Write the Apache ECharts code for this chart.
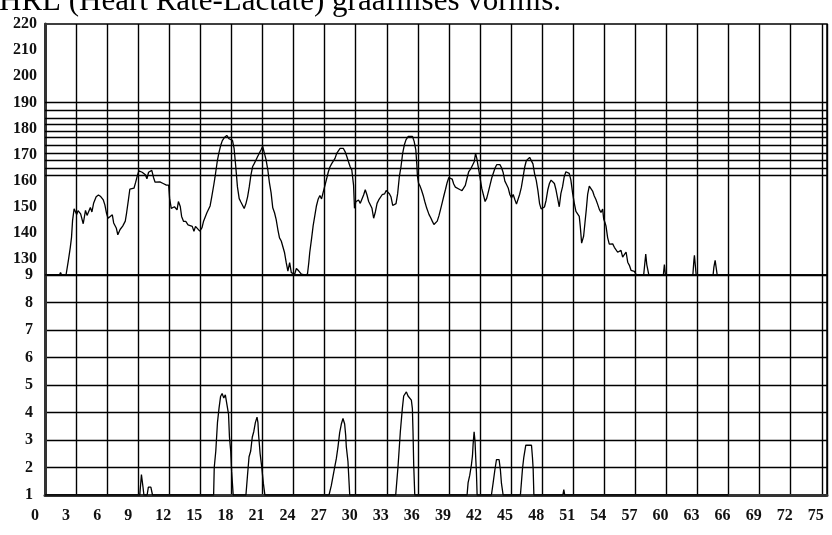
<!DOCTYPE html>
<html>
<head>
<meta charset="utf-8">
<script src="https://cdn.jsdelivr.net/npm/echarts@6.0.0/dist/echarts.min.js"></script>
<style>
html,body{margin:0;padding:0;background:#fff;}
#chart{width:832px;height:535px;}
</style>
</head>
<body>
<div id="chart"></div>
<script>
// ---- text ----
const titleText = 'HRL (Heart Rate-Lactate) graafilises vormis.';

// ---- axes ----
const hrTicks = [130, 140, 150, 160, 170, 180, 190, 200, 210, 220];
const lactateTicks = [1, 2, 3, 4, 5, 6, 7, 8, 9];
const timeMax = 75.5;      // minutes shown on the time axis
const timeStep = 3;        // labelled every 3 minutes

// ---- heart-rate zone lines (bpm) ----
const zoneLines = [190, 187, 184, 181.5, 179, 176.5, 173.5, 170.5, 168, 165, 162];

// ---- heart rate [minute, bpm] ----
const hrPart1 = [
  [0,124],[1.4,124],[1.5,125],[1.6,124],[2.03,124],[2.25,129.4],[2.44,134.5],[2.56,138.4],[2.66,144.8],[2.81,149.3],
  [2.88,149.6],[3.06,147.1],[3.19,148.6],[3.44,147.4],[3.69,143.6],[3.91,148.7],[4.06,146.8],[4.38,149.8],[4.53,148.1],[4.69,151.4],
  [4.94,153.9],[5.16,154.6],[5.38,154.0],[5.63,152.7],[5.78,150.8],[5.94,147.6],[6.09,145.7],[6.25,146.4],[6.5,147.0],[6.63,143.9],
  [6.88,142.0],[7.03,139.4],[7.25,141.4],[7.5,142.7],[7.75,144.6],[7.88,147.8],[8.06,152.9],[8.19,156.8],[8.38,156.8],[8.59,157.2],
  [8.75,159.4],[8.91,161.9],[9.06,163.8],[9.22,164.5],[9.38,163.3],[9.53,163.9],[9.69,162.3],[9.84,160.8],[10.0,163.3],[10.16,162.7],
  [10.31,164.0],[10.47,161.4],[10.63,159.5],[10.78,160.2],[11.09,159.6],[11.41,159.0],[11.72,158.4],[11.94,158.4],[12.03,153.3],[12.19,149.5],
  [12.34,148.8],[12.5,150.1],[12.75,148.9],[12.88,152.1],[13.06,150.2],[13.19,146.4],[13.38,144.5],[13.59,144.5],[13.81,143.2],[14.0,143.9],
  [14.22,142.6],[14.38,140.7],[14.53,142.6],[14.69,142.0],[14.94,140.8],[15.16,142.1],[15.31,144.6],[15.63,147.8],[15.94,150.4],[16.09,153.7],
  [16.31,158.8],[16.41,161.3]
];
const hrPart2 = [
  [16.64,167.7],[16.8,170.9],[16.96,173.5],[17.12,175.4],[17.35,176.7],[17.55,177.4],[17.77,176.1],[17.94,176.8],[18.1,175.5],[18.26,172.3],
  [18.42,165.3],[18.58,157.7],[18.75,153.2],[18.91,151.9],[19.07,150.7],[19.23,149.4],[19.4,151.3],[19.56,153.9],[19.72,157.7],[19.88,162.2],
  [20.05,165.5],[20.21,166.7],[20.37,168.0],[20.53,169.3],[20.69,170.6],[20.86,171.9],[21.02,173.2],[21.18,170.6],[21.34,168.1],[21.51,164.3],
  [21.67,159.2],[21.83,155.4],[21.99,149.7],[22.16,147.8],[22.32,145.2],[22.48,141.4],[22.64,138.2],[22.81,137.0],[22.97,136.3],[23.13,132.5],
  [23.29,128.7],[23.45,125.5],[23.62,128.7],[23.78,124.9],[23.94,124.3],[24.1,124.3],[24.27,126.5],[24.49,125.6],[24.75,124.3],[25.08,124],
  [25.34,124.3],[25.47,128.8],[25.56,132.6],[25.73,137.7],[25.89,142.9],[26.05,146.7],[26.21,150.5],[26.38,153.1],[26.54,154.4],[26.7,153.1],
  [26.86,155.7],[27.03,158.3],[27.19,160.8],[27.35,163.4],[27.51,165.3],[27.68,166.6],[27.84,167.3],[28.0,168.6],[28.16,170.5],[28.32,171.1],
  [28.49,172.4],[28.65,173.1],[28.81,172.4],[28.97,171.2],[29.14,169.3],[29.3,167.3],[29.46,165.4],[29.62,164.2],[29.79,158.4],[29.88,149.5],
  [30.01,152.0],[30.27,152.7],[30.44,151.4],[30.6,152.1],[30.76,154.6],[30.92,156.6],[31.08,154.7],[31.25,152.1],[31.41,151.4],[31.57,149.5],
  [31.73,145.7],[31.9,148.2],[32.06,151.4],[32.22,152.7],[32.55,154.7]
];
const hrPart3 = [
  [32.78,155.0],[32.94,156.3],[33.1,157.0],[33.25,155.1],[33.41,153.8],[33.57,150.6],[33.73,150.0],[33.89,151.3],[34.05,155.2],[34.21,161.6],
  [34.37,165.4],[34.53,170.5],[34.69,173.7],[34.85,175.7],[35.07,177.0],[35.26,177.6],[35.48,177.0],[35.64,175.1],[35.8,171.9],[35.9,166.2],
  [35.96,161.7],[36.06,159.2],[36.22,157.9],[36.34,156.6],[36.54,154.1],[36.66,152.2],[36.85,149.6],[37.08,147.1],[37.24,145.9],[37.39,144.6],
  [37.55,143.3],[37.71,144.0],[37.87,144.6],[38.03,146.6],[38.19,149.1],[38.35,151.7],[38.51,154.3],[38.67,156.8],[38.83,159.4],[38.99,161.3],
  [39.15,162.0],[39.31,160.7],[39.46,158.8],[39.62,157.6],[39.78,156.9],[40.04,156.7],[40.26,156.3],[40.42,157.0],[40.58,158.3],[40.74,160.9],
  [40.9,163.4],[41.12,164.7],[41.31,165.4],[41.44,167.3],[41.57,170.5],[41.69,168.6],[41.85,164.8],[42.01,161.0],[42.17,157.1],[42.33,154.6],
  [42.49,152.1],[42.65,153.4],[42.81,155.9],[42.97,158.5],[43.13,161.1],[43.29,163.0],[43.45,164.9],[43.61,166.2],[43.76,166.8],[43.92,166.2],
  [44.08,165.0],[44.24,163.1],[44.4,159.9],[44.56,158.6],[44.72,157.3],[44.88,154.8],[45.04,153.5],[45.2,154.8],[45.36,152.9],[45.52,151.1],
  [45.68,151.7],[45.83,154.9],[45.99,157.5],[46.15,161.3],[46.31,165.2],[46.47,167.7],[46.63,168.4],[46.79,169.0],[46.95,169.0],[47.11,166.5],
  [47.27,162.7],[47.43,160.2],[47.59,156.3],[47.75,151.3],[47.9,149.3],[48.06,148.7],[48.22,150.0],[48.38,152.6],[48.54,156.5],[48.7,159.0],
  [48.86,160.3],[49.02,160.3],[49.18,159.0],[49.34,156.5]
];
const hrPart4 = [
  [49.65,150.1],[49.81,155.2],[49.97,157.8],[50.13,161.6],[50.29,163.5],[50.45,164.2],[50.61,162.9],[50.77,160.4],[50.94,155.3],[51.1,151.5],
  [51.26,148.3],[51.42,149.0],[51.58,146.4],[51.68,142.6],[51.81,136.2],[52.0,138.8],[52.13,143.9],[52.26,149.0],[52.39,154.8],[52.55,158.0],
  [52.71,157.4],[52.87,156.1],[53.03,154.2],[53.19,152.9],[53.35,151.1],[53.52,149.1],[53.68,147.9],[53.84,149.2],[53.94,145.4],[54.06,144.1],
  [54.16,142.8],[54.32,138.3],[54.48,135.8],[54.65,135.2],[54.81,135.9],[54.97,134.6],[55.13,134.0],[55.29,132.7],[55.45,132.7],[55.61,133.4],
  [55.77,130.8],[55.94,130.2],[56.1,132.8],[56.26,128.9],[56.42,127.7],[56.58,125.8],[56.74,125.8],[56.9,125.4],[57.1,124],[57.8,124],
  [57.9,128],[58.0,132],[58.1,128],[58.3,124],[59.7,124],[59.8,128],[59.9,124],[62.55,124],[62.65,129.6],[62.7,131.5],
  [62.87,124],[64.5,124],[64.58,127],[64.7,129.6],[64.9,124],[66,124]
];

// ---- lactate [minute, mmol/l] ----
const lactatePoints = [
  [0,1],[9.15,1],[9.31,1.74],[9.46,1.29],[9.55,1],[9.86,1],[9.98,1.29],[10.22,1.29],[10.38,1],
  [16.28,1],[16.34,2.0],[16.49,2.6],[16.65,3.63],[16.8,4.15],[16.95,4.58],[17.1,4.69],[17.26,4.53],[17.41,4.64],[17.56,4.69],[17.72,3.94],[17.81,3.1],[17.93,2.6],[18.02,1.85],[18.17,1],
  [19.4,1],[19.55,1.71],[19.7,2.39],[19.86,2.6],[20.01,3.1],[20.16,3.31],[20.31,3.63],[20.47,3.83],[20.56,3.63],[20.62,3.2],[20.77,2.5],[20.93,2.0],[21.08,1.43],[21.23,1],
  [27.42,1],[27.64,1.34],[27.97,2.01],[28.13,2.33],[28.29,2.76],[28.45,3.27],[28.61,3.58],[28.77,3.78],[28.93,3.58],[29.03,3.17],[29.09,2.76],[29.25,2.22],[29.42,1],
  [33.86,1],[34.09,2.07],[34.31,3.32],[34.5,4.14],[34.63,4.6],[34.89,4.75],[35.05,4.6],[35.21,4.6],[35.37,4.45],[35.47,4.14],[35.53,3.32],[35.6,2.07],[35.7,1],
  [40.75,1],[40.85,1.45],[41.01,1.72],[41.17,2.1],[41.27,2.42],[41.33,2.83],[41.43,3.3],[41.52,2.94],[41.59,2.31],[41.65,1.86],[41.72,1],
  [43.1,1],[43.26,1.42],[43.43,1.9],[43.59,2.29],[43.84,2.29],[43.97,1.9],[44.07,1.42],[44.23,1],
  [45.9,1],[46.1,1.95],[46.23,2.38],[46.42,2.81],[46.97,2.81],[47.06,2.38],[47.13,1.95],[47.2,1],
  [50.0,1],[50.09,1.2],[50.18,1],[66,1]
];

const hrData = hrPart1.concat(hrPart2, hrPart3, hrPart4);

const FONT = '"Liberation Serif", "DejaVu Serif", serif';
const labelStyle = { fontFamily: FONT, fontSize: 16, fontWeight: 'bold', color: '#111' };

const chart = echarts.init(document.getElementById('chart'), null, { renderer: 'canvas' });

chart.setOption({
  animation: false,
  backgroundColor: '#fff',
  graphic: [{
    type: 'text',
    x: -1,
    y: 2,
    style: {
      text: titleText,
      font: '31px "Liberation Serif", serif',
      fill: '#000',
      verticalAlign: 'middle'
    }
  }],
  grid: [
    { left: 45, right: 5, top: 24, height: 251, show: true, borderColor: '#000', borderWidth: 1.5 },
    { left: 45, right: 5, top: 275, height: 220, show: true, borderColor: '#000', borderWidth: 1.5 }
  ],
  xAxis: [
    {
      gridIndex: 0, type: 'value', min: 0, max: timeMax, interval: timeStep,
      axisLine: { show: false }, axisTick: { show: false }, axisLabel: { show: false },
      splitLine: { show: true, lineStyle: { color: '#000', width: 1.4 } }
    },
    {
      gridIndex: 1, type: 'value', min: 0, max: timeMax, interval: timeStep,
      axisLine: { show: true, onZero: false, lineStyle: { color: '#333', width: 3 } },
      axisTick: { show: false },
      axisLabel: Object.assign({}, labelStyle, {
        margin: 13,
        showMaxLabel: false,
        formatter: v => (v % timeStep === 0 ? (v < 10 ? '{one|' + v + '}' : '{two|' + v + '}') : ''),
        rich: {
          one: { fontFamily: FONT, fontSize: 16, fontWeight: 'bold', color: '#111', padding: [0, 20, 0, 0] },
          two: { fontFamily: FONT, fontSize: 16, fontWeight: 'bold', color: '#111', padding: [0, 12, 0, 0] }
        }
      }),
      splitLine: { show: true, lineStyle: { color: '#000', width: 1.4 } }
    }
  ],
  yAxis: [
    {
      gridIndex: 0, type: 'value', min: 124, max: 220,
      axisLine: { show: true, lineStyle: { color: '#333', width: 3 } },
      axisTick: { show: false },
      axisLabel: Object.assign({}, labelStyle, { margin: 8, customValues: hrTicks }),
      splitLine: { show: false }
    },
    {
      gridIndex: 1, type: 'value', min: 1, max: 9, interval: 1,
      axisLine: { show: true, lineStyle: { color: '#333', width: 3 } },
      axisTick: { show: false },
      axisLabel: Object.assign({}, labelStyle, { margin: 12, customValues: lactateTicks }),
      splitLine: { show: true, lineStyle: { color: '#000', width: 1.4 } }
    }
  ],
  series: [
    {
      name: 'HR', type: 'line', xAxisIndex: 0, yAxisIndex: 0,
      data: hrData, showSymbol: false, symbol: 'none',
      lineStyle: { color: '#000', width: 1.3 },
      markLine: {
        silent: true, symbol: ['none', 'none'],
        label: { show: false },
        lineStyle: { color: '#000', width: 1.3, type: 'solid' },
        data: zoneLines.map(v => ({ yAxis: v }))
      }
    },
    {
      name: 'Lactate', type: 'line', xAxisIndex: 1, yAxisIndex: 1,
      data: lactatePoints, showSymbol: false, symbol: 'none',
      lineStyle: { color: '#000', width: 1.3 }
    }
  ]
});
</script>
</body>
</html>
